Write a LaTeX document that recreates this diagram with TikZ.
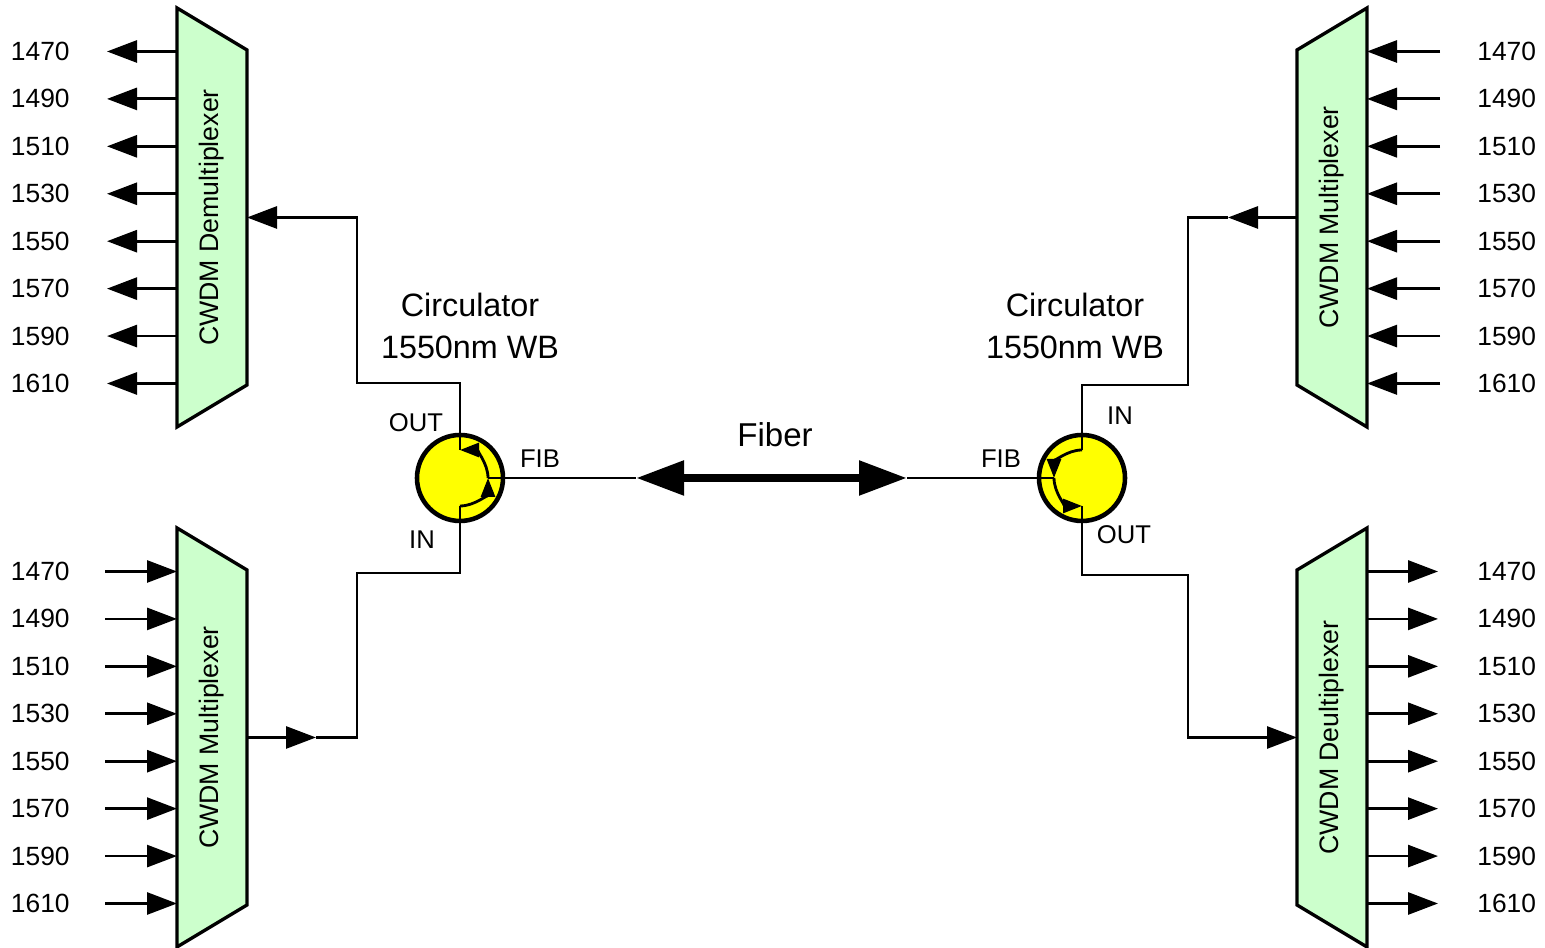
\documentclass[tikz,border=0pt]{standalone}
\usepackage{fontspec}
\setmainfont{Liberation Sans}
\usepackage{tikz}
\usetikzlibrary{arrows.meta, positioning, calc}
\definecolor{muxgreen}{HTML}{CCFFCC}
\definecolor{circyellow}{HTML}{FFFF00}

\begin{document}
\begin{tikzpicture}[
  box/.style={minimum width=7mm, minimum height=41.9mm, inner sep=0pt, outer sep=0pt},
  trap/.style={draw=black, fill=muxgreen, line width=0.95pt, line join=miter},
  boxtext/.style={rotate=90, font=\fontsize{7.6}{8}\selectfont},
  circ/.style={circle, draw=black, fill=circyellow, line width=1.3pt, minimum size=8.6mm, inner sep=0pt},
  wire/.style={line width=0.8pt},
  arrow/.style={wire, -{Triangle[length=3mm, width=2.2mm]}},
  flow/.style={wire, -{Triangle[length=1.9mm, width=1.4mm]}},
  fiber/.style={line width=2.4pt, {Triangle[length=4.8mm, width=3.3mm]}-{Triangle[length=4.8mm, width=3.3mm]}},
  num/.style={font=\fontsize{7.5}{9}\selectfont, inner sep=0pt},
  port/.style={font=\fontsize{7.3}{9}\selectfont, inner sep=0pt},
  circlabel/.style={align=center, font=\fontsize{9.2}{11.7}\selectfont}
]
  \useasboundingbox (0,0) rectangle (15.45,9.48);

  \node[box] (demuxL) at (2.12,7.305) {};
  \node[box] (muxL) at (2.12,2.105) {};
  \node[box] (muxR) at (13.32,7.305) {};
  \node[box] (demuxR) at (13.32,2.105) {};

  \draw[trap] (demuxL.north west) -- ([yshift=-4.2mm]demuxL.north east) -- ([yshift=4.2mm]demuxL.south east) -- (demuxL.south west) -- cycle;
  \draw[trap] (muxL.north west) -- ([yshift=-4.2mm]muxL.north east) -- ([yshift=4.2mm]muxL.south east) -- (muxL.south west) -- cycle;
  \draw[trap] (muxR.north east) -- (muxR.south east) -- ([yshift=4.2mm]muxR.south west) -- ([yshift=-4.2mm]muxR.north west) -- cycle;
  \draw[trap] (demuxR.north east) -- (demuxR.south east) -- ([yshift=4.2mm]demuxR.south west) -- ([yshift=-4.2mm]demuxR.north west) -- cycle;

  \node[boxtext] (demuxLtxt) at (demuxL) {CWDM Demultiplexer};
  \node[boxtext] (muxLtxt) at (muxL) {CWDM Multiplexer};
  \node[boxtext] (muxRtxt) at (muxR) {CWDM Multiplexer};
  \node[boxtext] (demuxRtxt) at (demuxR) {CWDM Deultiplexer};

  \foreach \w [count=\i from 0] in {1470,1490,1510,1530,1550,1570,1590,1610}{
    \pgfmathsetmacro\yy{1.66-0.4743*\i}
    \draw[arrow] ([yshift=\yy cm]demuxL.west) -- ++(-0.70,0) node[num, left=3.6mm] (dl\i) {\w};
    \draw[arrow] ([xshift=-7.2mm, yshift=\yy cm]muxL.west) node[num, left=3.4mm] (ml\i) {\w} -- ([yshift=\yy cm]muxL.west);
    \draw[arrow] ([xshift=7.3mm, yshift=\yy cm]muxR.east) node[num, right=3.6mm] (mr\i) {\w} -- ([yshift=\yy cm]muxR.east);
    \draw[arrow] ([yshift=\yy cm]demuxR.east) -- ++(0.71,0) node[num, right=3.8mm] (dr\i) {\w};
  }

  \node[circ] (circL) at (4.60,4.70) {};
  \node[circ] (circR) at (10.82,4.70) {};
  \coordinate (fibA) at (6.36,4.70);
  \coordinate (fibB) at (9.07,4.70);

  \draw[arrow] (circL.north) |- (3.57,5.65) |- (demuxL.east);
  \draw[arrow] (muxL.east) -- (3.16,2.105) coordinate (tipL);
  \draw[wire] (tipL) -| (3.57,3.75) -| (circL.south);
  \draw[arrow] (muxR.west) -- (12.28,7.305) coordinate (tipR);
  \draw[wire] (tipR) -| (11.88,5.63) -| (circR.north);
  \draw[arrow] (circR.south) |- (11.88,3.73) |- (demuxR.west);

  \draw[wire] (circL.east) -- (fibA);
  \draw[fiber] (fibA) -- (fibB);
  \draw[wire] (fibB) -- (circR.west);

  \draw[wire] (circL.center) ++(0,0.28) -- ++(0,0.15);
  \draw[wire] (circL.center) ++(0,-0.28) -- ++(0,-0.15);
  \draw[wire] (circL.center) ++(0.28,0) -- ++(0.15,0);
  \draw[flow] (circL.center) ++(0,-0.28) arc[start angle=-90, end angle=0, radius=0.28];
  \draw[flow] (circL.center) ++(0.28,0) arc[start angle=0, end angle=90, radius=0.28];

  \draw[wire] (circR.center) ++(0,0.28) -- ++(0,0.15);
  \draw[wire] (circR.center) ++(0,-0.28) -- ++(0,-0.15);
  \draw[wire] (circR.center) ++(-0.28,0) -- ++(-0.15,0);
  \draw[flow] (circR.center) ++(0,0.28) arc[start angle=90, end angle=180, radius=0.28];
  \draw[flow] (circR.center) ++(-0.28,0) arc[start angle=180, end angle=270, radius=0.28];

  \node[circlabel] (circLtxt) at (4.70,6.22) {Circulator\\1550nm WB};
  \node[circlabel] (circRtxt) at (10.75,6.22) {Circulator\\1550nm WB};
  \node[port] (outL) at (4.16,5.25) {OUT};
  \node[port] (inL) at (4.22,4.08) {IN};
  \node[port] (fibLtxt) at (5.40,4.89) {FIB};
  \node[port] (inR) at (11.20,5.32) {IN};
  \node[port] (outR) at (11.24,4.13) {OUT};
  \node[port] (fibRtxt) at (10.01,4.89) {FIB};
  \node[circlabel, font=\fontsize{9.4}{11}\selectfont] (fibtxt) at (7.75,5.13) {Fiber};
\end{tikzpicture}
\end{document}
